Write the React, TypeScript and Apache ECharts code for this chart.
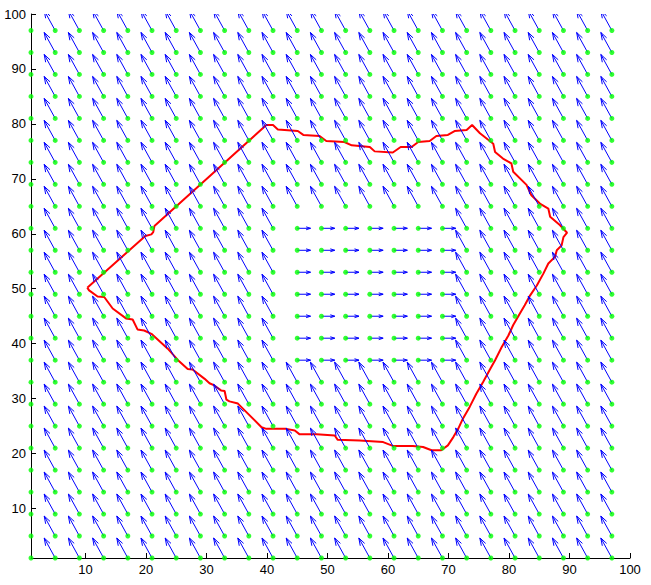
import React, { useEffect, useRef } from "react";
import * as echarts from "echarts";

// Quiver grid positions
const gridX = [1, 5, 9, 13, 17, 21, 25, 29, 33, 37, 41, 45, 49, 53, 57, 61, 65, 69, 73, 77, 81, 85, 89, 93, 97];
const gridY = [1, 5, 9, 13, 17, 21, 25, 29, 33, 37, 41, 45, 49, 53, 57, 61, 65, 69, 73, 77, 81, 85, 89, 93, 97];
// Inner block where the field points to the right
const innerX = [45, 49, 53, 57, 61, 65, 69];
const innerY = [37, 41, 45, 49, 53, 57, 61];
// Vector components (data units)
const outerVector = [-1.82, 3.64];
const innerVector = [2.2, 0];

// Red boundary
const boundaryX = [
  10.3, 19.9, 20.9, 21.2, 21.4, 39.9, 41.0, 41.8, 45.1, 46.0, 48.7, 49.8, 52.8, 54.0, 57.0, 57.8, 60.8, 62.1, 63.9, 65.0,
  66.9, 68.0, 69.9, 71.0, 73.0, 73.9, 75.2, 77.4, 77.7, 79.0, 80.4, 80.7, 82.9, 83.7, 85.1, 86.5, 86.8, 88.4, 89.6, 89.0,
  88.7, 87.9, 87.6, 86.5, 85.7, 84.6, 83.5, 82.6, 81.8, 80.7, 79.9, 78.8, 77.7, 76.8, 75.7, 74.6, 73.5, 72.4, 71.6, 70.8,
  69.9, 68.8, 67.2, 65.8, 64.1, 60.8, 59.2, 55.3, 51.7, 51.2, 48.2, 45.4, 44.6, 43.2, 39.9, 39.1, 37.1, 35.2, 33.8, 33.3,
  33.0, 32.4, 31.3, 30.5, 29.7, 27.7, 26.9, 25.3, 23.6, 20.9, 19.7, 18.6, 17.8, 16.7, 14.5, 13.1, 12.0, 10.6, 10.3,
];
const boundaryY = [
  50.2, 59.6, 59.9, 60.3, 61.4, 79.8, 79.8, 79.0, 78.7, 78.0, 77.8, 76.9, 76.7, 76.1, 75.8, 75.0, 74.8, 75.8, 75.8, 76.7,
  76.9, 77.8, 78.0, 78.7, 78.9, 79.8, 78.3, 76.4, 74.9, 73.7, 72.8, 71.3, 68.9, 67.0, 65.5, 64.6, 63.1, 61.6, 60.2, 59.4,
  57.9, 57.0, 55.8, 54.6, 52.8, 50.6, 48.8, 47.0, 45.5, 43.4, 41.5, 39.4, 37.0, 35.2, 33.0, 30.9, 28.5, 26.4, 24.5, 23.0,
  21.5, 20.6, 20.6, 21.2, 21.4, 21.4, 22.1, 22.4, 22.5, 23.3, 23.5, 23.5, 24.2, 24.5, 24.5, 24.8, 27.0, 29.1, 29.5, 29.8,
  31.4, 31.5, 32.4, 32.8, 33.6, 35.3, 35.4, 37.0, 39.1, 41.8, 42.4, 42.6, 44.4, 44.6, 46.4, 48.5, 48.6, 49.7, 50.2,
];

const tickValues = [10, 20, 30, 40, 50, 60, 70, 80, 90, 100];

export default function App() {
  const ref = useRef<HTMLDivElement>(null);
  useEffect(() => {
    if (!ref.current) return;
    const chart = echarts.init(ref.current, null, { renderer: "svg" });

    const arrows: number[][] = [];
    const dots: number[][] = [];
    for (const y of gridY) {
      for (const x of gridX) {
        const inner = innerX.includes(x) && innerY.includes(y);
        const vec = inner ? innerVector : outerVector;
        arrows.push([x, y, vec[0], vec[1]]);
        dots.push([x, y]);
      }
    }
    const boundary = boundaryX.map((x, i) => [x, boundaryY[i]]);

    const axisCommon = {
      type: "value" as const,
      min: 1,
      max: 100,
      splitLine: { show: false },
      axisLine: { show: true, onZero: false, lineStyle: { color: "#000", width: 1 } },
      axisTick: { show: true, inside: true, length: 5, customValues: tickValues, lineStyle: { color: "#000" } },
    };

    chart.setOption({
      animation: false,
      backgroundColor: "#ffffff",
      grid: { left: 31, top: 14, width: 599, height: 544, containLabel: false },
      xAxis: {
        ...axisCommon,
        axisLabel: {
          customValues: tickValues,
          color: "#000",
          fontSize: 13,
          fontFamily: "Liberation Sans, Arial, sans-serif",
          margin: 5,
        },
      },
      yAxis: {
        ...axisCommon,
        axisLabel: {
          customValues: tickValues,
          color: "#000",
          fontSize: 13,
          fontFamily: "Liberation Sans, Arial, sans-serif",
          margin: 5,
        },
      },
      series: [
        {
          type: "line",
          data: boundary,
          symbol: "none",
          lineStyle: { color: "#ff0000", width: 2 },
          z: 1,
          silent: true,
        },
        {
          type: "custom",
          clip: true,
          z: 2,
          silent: true,
          data: arrows,
          renderItem: (params: any, api: any) => {
            const x = api.value(0);
            const y = api.value(1);
            const u = api.value(2);
            const v = api.value(3);
            const p0 = api.coord([x, y]);
            const p1 = api.coord([x + u, y + v]);
            const du = p1[0] - p0[0];
            const dv = p1[1] - p0[1];
            const a = 0.33;
            const b = 0.33;
            const h1 = [p1[0] - a * (du + b * dv), p1[1] - a * (dv - b * du)];
            const h2 = [p1[0] - a * (du - b * dv), p1[1] - a * (dv + b * du)];
            const style = { stroke: "#0000ff", lineWidth: 1, fill: null };
            return {
              type: "group",
              children: [
                { type: "polyline", shape: { points: [p0, p1] }, style },
                { type: "polyline", shape: { points: [h1, p1, h2] }, style },
              ],
            };
          },
        },
        {
          type: "scatter",
          data: dots,
          symbol: "circle",
          symbolSize: 5,
          itemStyle: { color: "#00ff00" },
          z: 3,
          silent: true,
          clip: false,
        },
      ],
    });
    return () => chart.dispose();
  }, []);
  return (
    <div
      ref={ref}
      style={{ position: "fixed", left: 0, top: 0, width: 651, height: 585, background: "#fff" }}
    />
  );
}
